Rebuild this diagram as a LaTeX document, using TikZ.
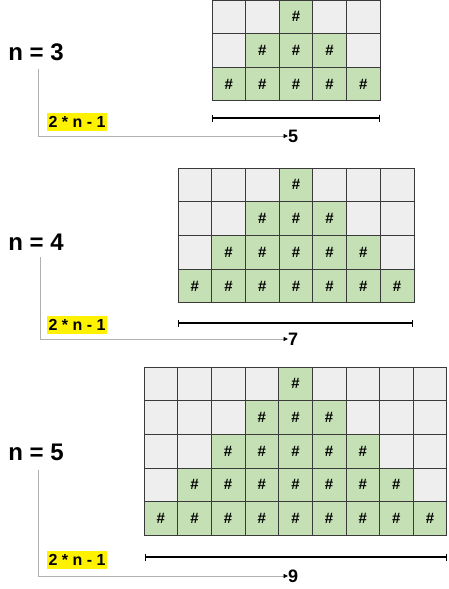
\documentclass[tikz,border=0pt]{standalone}
\usepackage{fontspec}
\setmainfont{Liberation Sans}
\usetikzlibrary{arrows.meta}
\definecolor{cellgreen}{HTML}{C5E0B4}
\definecolor{cellgray}{HTML}{EEEEEE}
\definecolor{gridline}{HTML}{3A3A3A}
\definecolor{leadgray}{HTML}{B0B0B0}
\tikzset{
  cellbase/.style={draw=gridline, line width=0.8pt, inner sep=0pt, font=\fontsize{15}{15}\selectfont\bfseries},
  cellon/.style={cellbase, fill=cellgreen},
  celloff/.style={cellbase, fill=cellgray},
  nlabel/.style={font=\fontsize{24}{24}\selectfont\bfseries, inner sep=0pt},
  formula/.style={font=\fontsize{16}{16}\selectfont\bfseries, fill=yellow, inner xsep=2pt, inner ysep=3pt, text depth=0pt},
  widthnum/.style={font=\fontsize{18}{18}\selectfont\bfseries, inner sep=0pt, anchor=west},
  widthbar/.style={line width=2pt, {Bar[width=7pt,line width=1.2pt]}-{Bar[width=7pt,line width=1.2pt]}},
  leader/.style={draw=leadgray, line width=0.8pt, -{Triangle[length=4.5pt,width=4pt,black]}},
}
% #1 n, #2 x0, #3 y0, #4 cell size
\newcommand\pyramidgrid[4]{%
  \pgfmathtruncatemacro\mycols{2*#1-1}%
  \foreach \r in {1,...,#1}{%
    \foreach \c in {1,...,\mycols}{%
      \pgfmathtruncatemacro\dd{abs(\c-#1)}%
      \ifnum\dd<\r
        \node[cellon, minimum size=#4pt] (g#1-\r-\c) at ({#2+(\c-0.5)*#4},{#3+(\r-0.5)*#4}) {\#};
      \else
        \node[celloff, minimum size=#4pt] (g#1-\r-\c) at ({#2+(\c-0.5)*#4},{#3+(\r-0.5)*#4}) {};
      \fi
    }%
  }%
}
\begin{document}
\begin{tikzpicture}[x=1pt,y=-1pt]
\useasboundingbox (0,0) rectangle (448,589);

% ---------- n = 3 ----------
\pyramidgrid{3}{212}{0}{33.6}
\node[nlabel] (n3) at (36,52) {n = 3};
\coordinate (b3l) at (212,118);
\coordinate (b3r) at (380,118);
\draw[widthbar] (b3l) -- (b3r);
\node[formula] (f3) at (77,122) {2 * n - 1};
\coordinate (t3) at (38,69);
\coordinate (k3) at (38,136);
\node[widthnum] (w3) at (288,136) {5};
\draw[leader] (t3) -- (k3) -- (w3.west);

% ---------- n = 4 ----------
\pyramidgrid{4}{178}{168}{33.7}
\node[nlabel] (n4) at (36,242) {n = 4};
\coordinate (b4l) at (178,323);
\coordinate (b4r) at (413,323);
\draw[widthbar] (b4l) -- (b4r);
\node[formula] (f4) at (77,325) {2 * n - 1};
\coordinate (t4) at (40,257);
\coordinate (k4) at (40,339);
\node[widthnum] (w4) at (288,339) {7};
\draw[leader] (t4) -- (k4) -- (w4.west);

% ---------- n = 5 ----------
\pyramidgrid{5}{144}{367}{33.65}
\node[nlabel] (n5) at (36,452) {n = 5};
\coordinate (b5l) at (145,557);
\coordinate (b5r) at (447,557);
\draw[widthbar] (b5l) -- (b5r);
\node[formula] (f5) at (77,560) {2 * n - 1};
\coordinate (t5) at (38,470);
\coordinate (k5) at (38,576);
\node[widthnum] (w5) at (288,576) {9};
\draw[leader] (t5) -- (k5) -- (w5.west);
\end{tikzpicture}
\end{document}
